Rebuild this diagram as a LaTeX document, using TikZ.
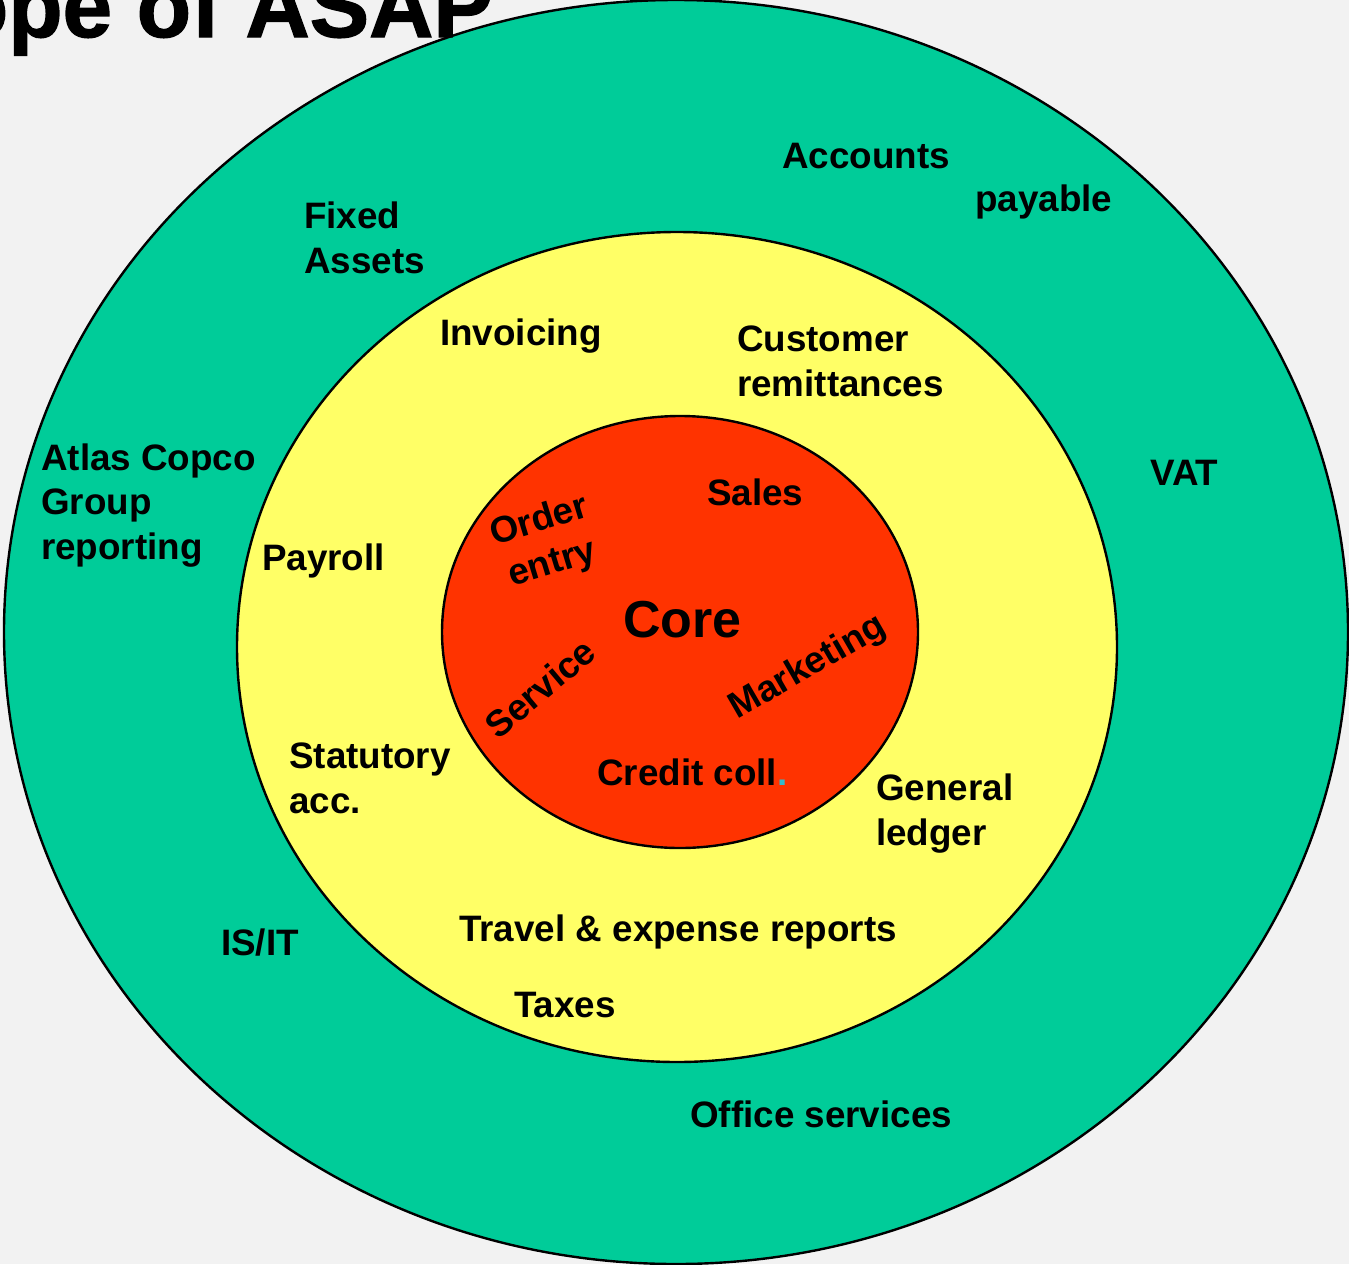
\documentclass[tikz,border=0pt]{standalone}
\usepackage{fontspec}
\setmainfont{Liberation Sans}
\newfontfamily\titlefont[FakeBold=1.5]{Liberation Sans Bold}

\definecolor{outergreen}{HTML}{00CC99}
\definecolor{midyellow}{HTML}{FFFF66}
\definecolor{corered}{HTML}{FF3300}
\definecolor{pagegray}{HTML}{F2F2F2}
\definecolor{dotteal}{RGB}{51,187,204}

\begin{document}
\begin{tikzpicture}[x=1pt,y=-1pt,
  ring/.style={draw=black, line width=2.4pt},
  lbl/.style={anchor=base west, inner sep=0pt, align=left,
    font=\bfseries\fontsize{36.8}{44.5}\selectfont},
  turned/.style={inner sep=0pt, align=center,
    font=\bfseries\fontsize{36.8}{44.5}\selectfont}]

% Page and clipping
\useasboundingbox (0,0) rectangle (1349,1264);
\clip (0,0) rectangle (1349,1264);
\fill[pagegray] (0,0) rectangle (1349,1264);

% Centres of the three rings
\coordinate (G) at (676,632);
\coordinate (Y) at (677,647);
\coordinate (R) at (680,632);

% Rings, outside in
\filldraw[ring, fill=outergreen] (G) ellipse [x radius=672, y radius=632];
\filldraw[ring, fill=midyellow] (Y) ellipse [x radius=440, y radius=415];
\filldraw[ring, fill=corered] (R) ellipse [x radius=238, y radius=216];

% Outer ring labels (base = last line)
\node[lbl] (accounts) at (782,168) {Accounts};
\node[lbl] (payable) at (975,211) {payable};
\node[lbl] (fixed) at (304,273) {Fixed\\Assets};
\node[lbl] (atlas) at (41,559) {Atlas Copco\\Group\\reporting};
\node[lbl] (vat) at (1150,485) {VAT};
\node[lbl] (isit) at (221,955) {IS/IT};
\node[lbl] (office) at (690,1127) {Office services};

% Middle ring labels
\node[lbl] (invoicing) at (440,345) {Invoicing};
\node[lbl] (remit) at (737,396) {Customer\\remittances};
\node[lbl] (payroll) at (262,570) {Payroll};
\node[lbl] (statutory) at (289,813) {Statutory\\acc.};
\node[lbl] (ledger) at (876,845) {General\\ledger};
\node[lbl] (travel) at (459,941) {Travel \& expense reports};
\node[lbl] (taxes) at (514,1017) {Taxes};

% Core labels
\node[lbl] (sales) at (707,505) {Sales};
\node[lbl, font=\bfseries\fontsize{52}{60}\selectfont] (core) at (623,637) {Core};
\node[lbl] (credit) at (597,785) {Credit coll\textcolor{dotteal}{.}};
\node[turned, rotate=17] (order) at (546,543) {Order\\entry};
\node[turned, rotate=40] (service) at (540,688) {Service};
\node[turned, rotate=30] (marketing) at (808,668) {Marketing};

% Title, cut by the page edge
\node[anchor=base east, inner sep=0pt,
  font=\titlefont\fontsize{89}{89}\selectfont] (title) at (493,37) {Scope of ASAP};

\end{tikzpicture}
\end{document}
